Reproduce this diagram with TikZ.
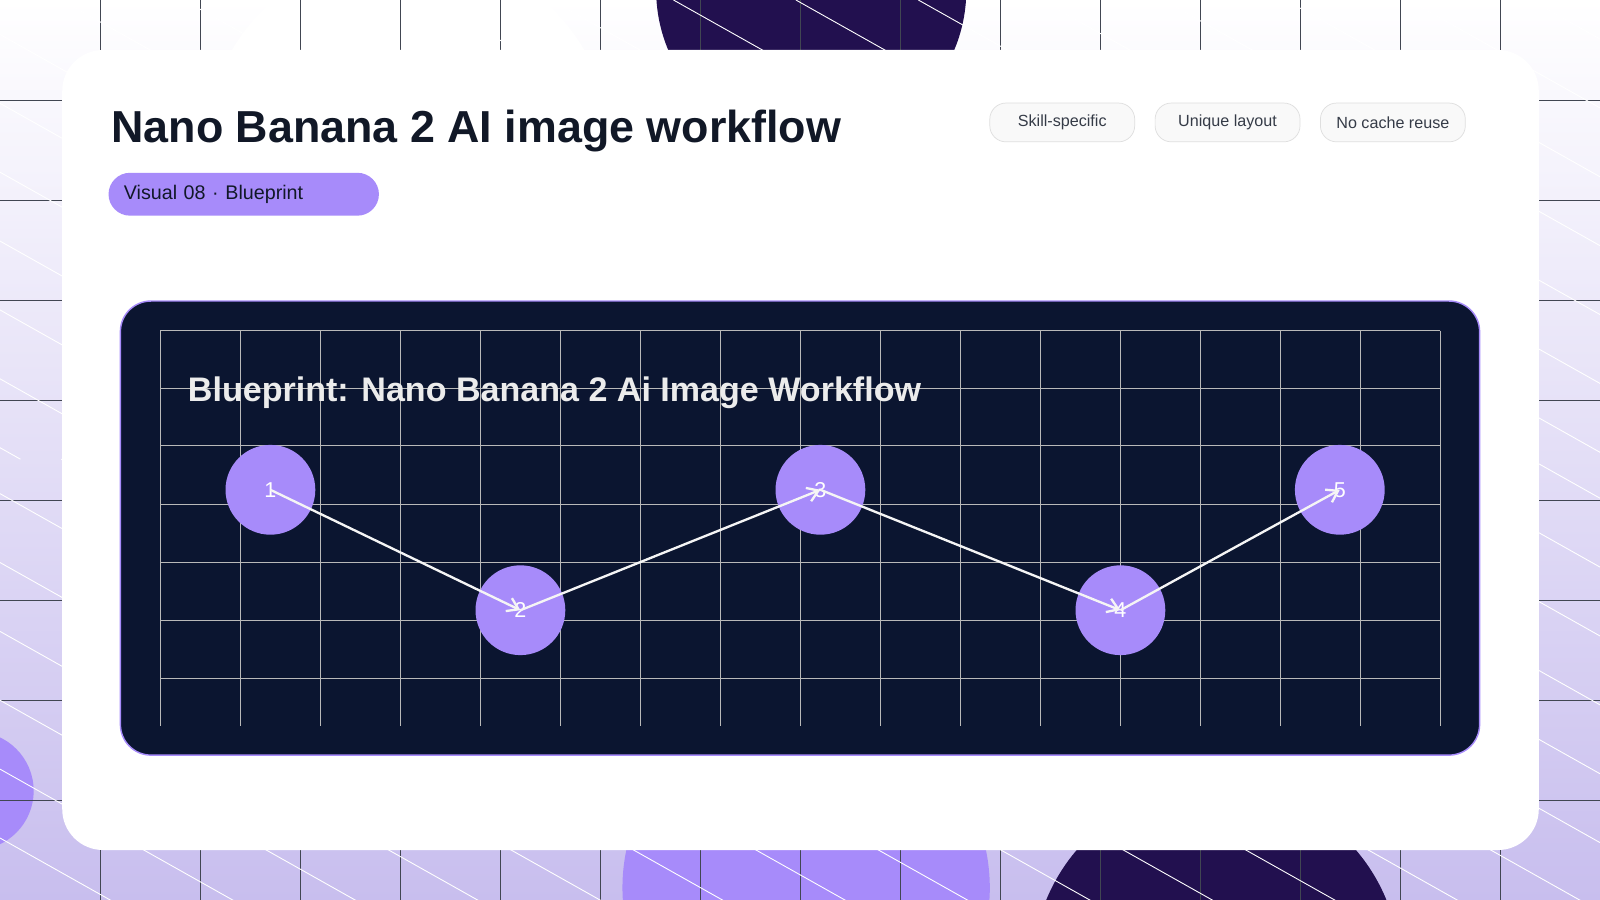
\documentclass[tikz,border=0pt]{standalone}
\usepackage{fontspec}
\setmainfont{Liberation Sans}
\usetikzlibrary{arrows.meta}
\definecolor{lav}{HTML}{A78BFA}
\definecolor{darkp}{HTML}{22104F}
\definecolor{navy}{HTML}{0B1530}
\definecolor{ink}{HTML}{111827}
\definecolor{bgbot}{HTML}{C8BEEE}
\tikzset{
 tag/.style={draw=gray!25,fill=gray!5,rounded corners=9pt,minimum width=142*0.02cm,minimum height=38*0.02cm,font=\fontsize{9}{10}\selectfont,text=ink!85},
 stepc/.style={circle,fill=lav,minimum size=88*0.02cm,inner sep=0pt,text=white,font=\fontsize{12}{12}\selectfont},
 flow/.style={draw=white!92!gray,line width=1.3pt,-{Straight Barb[length=6pt,width=8pt]}}
}
\begin{document}
\begin{tikzpicture}[x=0.02cm,y=-0.02cm]
\useasboundingbox (0,0) rectangle (1568,882);
\shade[top color=white,bottom color=bgbot] (0,0) rectangle (1568,882);
\begin{scope}
\clip (0,0) rectangle (1568,882);
\fill[white] (400,150) circle (200);
\fill[darkp] (795,-10) circle (152);
\fill[lav] (790,870) circle (180);
\fill[darkp] (1192,950) circle (180);
\fill[lav] (-25,775) circle (58);
\foreach \x in {98,196,...,1568} \draw[ink!80,line width=0.5pt] (\x,0)--(\x,882);
\foreach \y in {98,196,...,882} \draw[ink!80,line width=0.5pt] (0,\y)--(1568,\y);
\foreach \k in {-900,-780,...,1700} \draw[white,line width=0.5pt] (\k,0)--(\k+800,450) (\k,450)--(\k+800,900);
\end{scope}
\fill[white] (61,49) [rounded corners=40*0.02cm] rectangle (1508,833);
\node[anchor=west,font=\bfseries\fontsize{25}{28}\selectfont,text=ink] (title) at (103,128) {Nano Banana 2 AI image workflow};
\node[fill=lav,rounded corners=12pt,minimum width=265*0.02cm,minimum height=42*0.02cm,anchor=north west,text=ink,font=\fontsize{11}{12}\selectfont,text width=235*0.02cm,align=left] (pill) at (106,169) {Visual 08 · Blueprint};
\node[tag] (t1) at (1041,120) {Skill-specific};
\node[tag] (t2) at (1203,120) {Unique layout};
\node[tag] (t3) at (1365,120) {No cache reuse};
\draw[lav,fill=navy,line width=0.8pt,rounded corners=30*0.02cm] (118,295) rectangle (1450,740);
\foreach \x in {157,235.4,...,1412} \draw[gray!55,line width=0.5pt] (\x,324)--(\x,711);
\foreach \y in {324,381,437,494,551,608,665} \draw[gray!55,line width=0.5pt] (157,\y)--(1411,\y);
\node[anchor=west,font=\bfseries\fontsize{19}{22}\selectfont,text=gray!15] (ptitle) at (178,385) {Blueprint: Nano Banana 2 Ai Image Workflow};
\node[stepc] (n1) at (265,480) {1};
\node[stepc] (n2) at (510,598) {2};
\node[stepc] (n3) at (804,480) {3};
\node[stepc] (n4) at (1098,598) {4};
\node[stepc] (n5) at (1313,480) {5};
\draw[flow] (n1.center)--(n2.center);
\draw[flow] (n2.center)--(n3.center);
\draw[flow] (n3.center)--(n4.center);
\draw[flow] (n4.center)--(n5.center);
\end{tikzpicture}
\end{document}
